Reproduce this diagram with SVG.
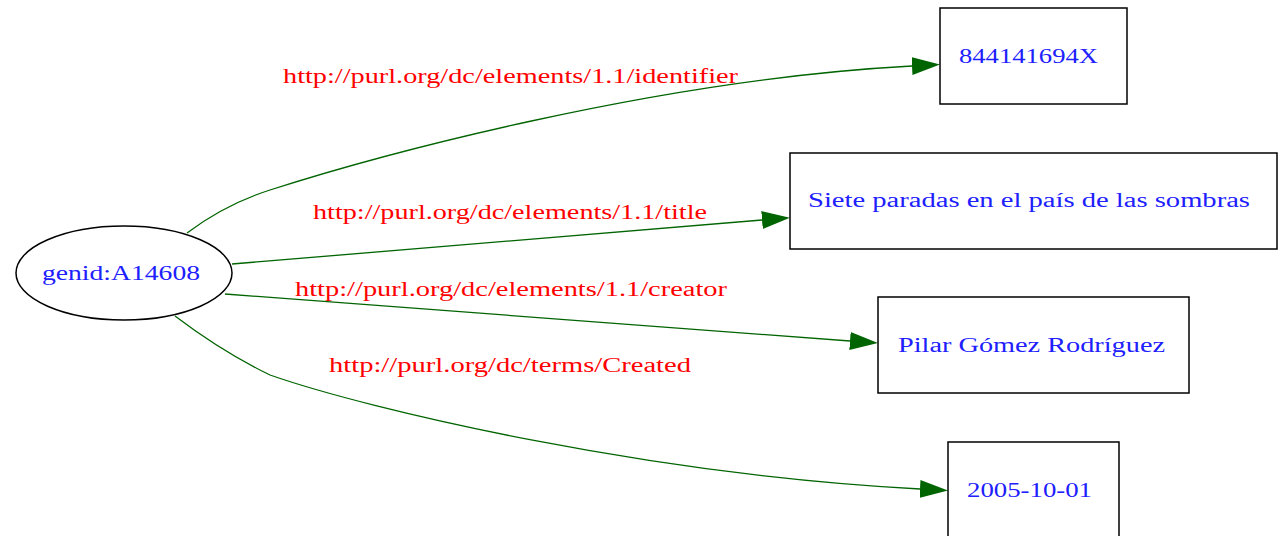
<svg xmlns="http://www.w3.org/2000/svg" width="1281" height="536" viewBox="0 0 1281 536">
<style>
.node{fill:#fff;stroke:#000;stroke-width:1.5}
.nt{font-family:"Liberation Serif",serif;font-size:20px;fill:#2020ff}
.lt{font-family:"Liberation Serif",serif;font-size:20px;fill:#ff0000}
.edge{fill:none;stroke:#006400;stroke-width:1.3}
</style>
<defs>
<marker id="arr" markerUnits="userSpaceOnUse" markerWidth="28" markerHeight="18" refX="0" refY="9" orient="auto">
<path d="M0,0 L28,9 L0,18 z" fill="#006400"/>
</marker>
</defs>
<rect width="1281" height="536" fill="#fff"/>
<g id="connectors">
<path class="edge" marker-end="url(#arr)" d="M187,233 C215,212 245,198 270,190 C370,158 650,80 912,66"/>
<text class="lt" x="283" y="83" textLength="455" lengthAdjust="spacingAndGlyphs">http://purl.org/dc/elements/1.1/identifier</text>
<path class="edge" marker-end="url(#arr)" d="M232,264 L762,220"/>
<text class="lt" x="313" y="219" textLength="394" lengthAdjust="spacingAndGlyphs">http://purl.org/dc/elements/1.1/title</text>
<path class="edge" marker-end="url(#arr)" d="M225,294 L850,341"/>
<text class="lt" x="295" y="296" textLength="432" lengthAdjust="spacingAndGlyphs">http://purl.org/dc/elements/1.1/creator</text>
<path class="edge" marker-end="url(#arr)" d="M175,316 C200,335 235,358 270,375 C370,410 650,475 920,489"/>
<text class="lt" x="329" y="372" textLength="362" lengthAdjust="spacingAndGlyphs">http://purl.org/dc/terms/Created</text>
</g>
<g id="n0">
<ellipse class="node" cx="124" cy="273" rx="108" ry="47"/>
<text class="nt" x="42" y="280" textLength="158" lengthAdjust="spacingAndGlyphs">genid:A14608</text>
</g>
<g id="n1">
<rect class="node" x="940" y="8" width="187" height="96"/>
<text class="nt" x="959" y="63" textLength="139" lengthAdjust="spacingAndGlyphs">844141694X</text>
</g>
<g id="n2">
<rect class="node" x="790" y="153" width="487" height="96"/>
<text class="nt" x="808" y="207" textLength="442" lengthAdjust="spacingAndGlyphs">Siete paradas en el país de las sombras</text>
</g>
<g id="n3">
<rect class="node" x="878" y="297" width="311" height="96"/>
<text class="nt" x="898" y="352" textLength="267" lengthAdjust="spacingAndGlyphs">Pilar Gómez Rodríguez</text>
</g>
<g id="n4">
<rect class="node" x="948" y="442" width="171" height="100"/>
<text class="nt" x="967" y="497" textLength="125" lengthAdjust="spacingAndGlyphs">2005-10-01</text>
</g>
</svg>
